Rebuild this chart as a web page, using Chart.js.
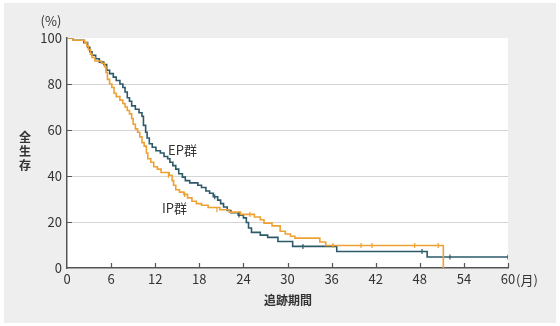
<!DOCTYPE html>
<html lang="ja">
<head>
    <meta charset="UTF-8">
    <title>全生存</title>
    <script src="https://cdn.jsdelivr.net/npm/chart.js"></script>
    <style>
        body { margin: 0; background: #fff; }
        canvas { display: block; }
    </style>
</head>
<body>
    <canvas id="osChart" width="560" height="326"></canvas>
    <script>
        // Kaplan-Meier steps: month of event, survival (%) after the event
        const epMonths   = [0, 0.8, 2.3, 2.8, 3.1, 3.4, 3.9, 4.4, 5.0, 5.4, 5.8, 6.3, 6.7, 7.2, 7.6, 7.9, 8.2, 8.5, 8.8, 9.3, 9.8, 10.2, 10.4, 10.7, 10.9, 11.2, 11.6, 12.1, 12.7, 13.2, 13.7, 14.0, 14.4, 14.8, 15.2, 15.7, 16.1, 16.7, 17.8, 18.3, 18.9, 19.4, 19.9, 20.5, 20.9, 21.3, 21.8, 22.3, 23.3, 24.0, 24.4, 24.7, 25.1, 26.3, 27.3, 28.7, 30.7, 36.7, 49.0, 60];
        const epSurvival = [100, 99, 98, 96, 94, 92.5, 91, 89.5, 88.5, 86, 84.5, 83, 81.5, 80, 78.5, 76.5, 74, 72.5, 70.5, 69, 67.5, 66, 62, 59, 56.5, 54, 52.5, 51, 50, 48.5, 47.5, 46, 44.5, 43, 41, 39.5, 38, 37, 36, 35, 33.5, 32.5, 31, 29.5, 28, 26.5, 25, 24, 23, 21.8, 19.8, 17.4, 15.5, 14.3, 13.3, 11.5, 9.4, 7.2, 4.8, 4.8];

        const ipMonths   = [0, 0.8, 2.4, 2.7, 2.9, 3.2, 3.4, 3.8, 4.7, 5.1, 5.3, 5.5, 5.8, 6.1, 6.4, 6.7, 7.2, 7.6, 7.9, 8.2, 8.5, 8.8, 9.0, 9.3, 9.6, 9.9, 10.2, 10.5, 10.8, 11.0, 11.4, 11.8, 12.3, 12.8, 13.9, 14.3, 14.5, 14.8, 15.3, 15.9, 16.4, 17.0, 17.6, 18.3, 19.2, 20.8, 22.1, 23.6, 25.5, 26.3, 26.8, 27.9, 29.0, 29.7, 30.4, 31.0, 34.4, 35.2, 51.2];
        const ipSurvival = [100, 99, 98, 96.5, 95, 93, 91.5, 90, 89, 87.5, 85, 82, 80, 78.5, 76, 74.5, 73, 71.5, 70, 68.5, 67, 65, 62.5, 60.5, 59, 57, 54.5, 53, 50, 47.5, 46, 44, 43, 41.5, 40.3, 38, 36, 34, 33, 32, 30.5, 29, 28, 27.3, 26.3, 25.3, 24.3, 23.3, 22.2, 21, 19.5, 18.3, 16, 14.8, 13.8, 13, 11.3, 9.8, 0];

        // censored observations
        const epCensorMonths = [20.1, 23.4, 32.1, 48.3, 52.1, 60];
        const epCensorValues = [31, 23, 9.4, 7.2, 4.8, 4.8];
        const ipCensorMonths = [13.8, 16.0, 20.4, 24.9, 36.2, 40.0, 41.5, 47.3, 50.5];
        const ipCensorValues = [40.3, 32, 25.3, 23.3, 9.8, 9.8, 9.8, 9.8, 9.8];

        const monthTicks = [0, 6, 12, 18, 24, 30, 36, 42, 48, 54, 60];
        const pctTicks = [0, 20, 40, 60, 80, 100];

        const EP_COLOR = '#2c5a69';
        const IP_COLOR = '#eea133';
        const TEXT = '#333';
        const AXIS = '#555';
        const FONT = '"Noto Sans CJK JP", "Noto Sans", sans-serif';

        const toPoints = (xs, ys) => xs.map((x, i) => ({ x: x, y: ys[i] }));

        const framePlugin = {
            id: 'frame',
            beforeDraw(chart) {
                const ctx = chart.ctx;
                const a = chart.chartArea;
                ctx.save();
                ctx.fillStyle = '#fff';
                ctx.fillRect(0, 0, chart.width, chart.height);
                ctx.fillStyle = '#eeeeee';
                ctx.fillRect(4, 3, 552, 320);
                ctx.fillStyle = '#fff';
                ctx.fillRect(a.left, a.top, a.right - a.left, a.bottom - a.top);
                ctx.restore();
            },
            afterDraw(chart) {
                const ctx = chart.ctx;
                const a = chart.chartArea;
                const xs = chart.scales.x;
                const ys = chart.scales.y;
                ctx.save();
                // inward tick marks
                ctx.strokeStyle = AXIS;
                ctx.lineWidth = 1.2;
                ctx.beginPath();
                monthTicks.slice(1).forEach(m => {
                    const px = Math.round(xs.getPixelForValue(m)) + 0.5;
                    ctx.moveTo(px, a.bottom);
                    ctx.lineTo(px, a.bottom - 5);
                });
                pctTicks.slice(1, -1).forEach(p => {
                    const py = Math.round(ys.getPixelForValue(p)) + 0.5;
                    ctx.moveTo(a.left, py);
                    ctx.lineTo(a.left + 5, py);
                });
                ctx.stroke();

                ctx.fillStyle = TEXT;
                ctx.textBaseline = 'middle';
                ctx.font = '13px ' + FONT;
                ctx.textAlign = 'center';
                ctx.fillText('(%)', 51, 21);
                ctx.textAlign = 'left';
                ctx.fillText('(月)', 516, 280);
                ctx.fillText('EP群', 168, 150);
                ctx.fillText('IP群', 162, 208);

                ctx.font = 'bold 12px ' + FONT;
                ctx.textAlign = 'center';
                ['全', '生', '存'].forEach((ch, i) => ctx.fillText(ch, 25, 137 + i * 14));
                ctx.fillText('追跡期間', 288, 300);
                ctx.restore();
            }
        };

        new Chart(document.getElementById('osChart'), {
            type: 'line',
            data: {
                datasets: [
                    {
                        label: 'IP群',
                        data: toPoints(ipMonths, ipSurvival),
                        borderColor: IP_COLOR,
                        borderWidth: 1.6,
                        stepped: true,
                        pointRadius: 0,
                        fill: false,
                        order: 1
                    },
                    {
                        label: 'EP群',
                        data: toPoints(epMonths, epSurvival),
                        borderColor: EP_COLOR,
                        borderWidth: 1.6,
                        stepped: true,
                        pointRadius: 0,
                        fill: false,
                        order: 2
                    },
                    {
                        type: 'scatter',
                        data: toPoints(ipCensorMonths, ipCensorValues),
                        borderColor: IP_COLOR,
                        borderWidth: 1.2,
                        pointStyle: 'line',
                        rotation: 90,
                        pointRadius: 2.5,
                        order: 0
                    },
                    {
                        type: 'scatter',
                        data: toPoints(epCensorMonths, epCensorValues),
                        borderColor: EP_COLOR,
                        borderWidth: 1.2,
                        pointStyle: 'line',
                        rotation: 90,
                        pointRadius: 2.5,
                        order: 0
                    }
                ]
            },
            options: {
                responsive: false,
                animation: false,
                events: [],
                layout: { padding: { left: 0, right: 52, top: 38, bottom: 0 } },
                plugins: {
                    legend: { display: false },
                    tooltip: { enabled: false }
                },
                scales: {
                    x: {
                        type: 'linear',
                        min: 0,
                        max: 60,
                        afterFit: s => { s.height = 58; },
                        afterBuildTicks: s => { s.ticks = monthTicks.map(v => ({ value: v })); },
                        grid: { display: false, drawTicks: false },
                        border: { display: true, color: AXIS, width: 1.5 },
                        ticks: { color: TEXT, font: { family: FONT, size: 13 }, padding: 3, maxRotation: 0 }
                    },
                    y: {
                        min: 0,
                        max: 100,
                        afterFit: s => { s.width = 67; },
                        afterBuildTicks: s => { s.ticks = pctTicks.map(v => ({ value: v })); },
                        grid: {
                            drawTicks: false,
                            color: c => (c.tick.value === 0 || c.tick.value === 100) ? 'rgba(0,0,0,0)' : '#d4d4d4',
                            lineWidth: 1
                        },
                        border: { display: true, color: AXIS, width: 1.5 },
                        ticks: { color: TEXT, font: { family: FONT, size: 13 }, padding: 5 }
                    }
                }
            },
            plugins: [framePlugin]
        });
    </script>
</body>
</html>
